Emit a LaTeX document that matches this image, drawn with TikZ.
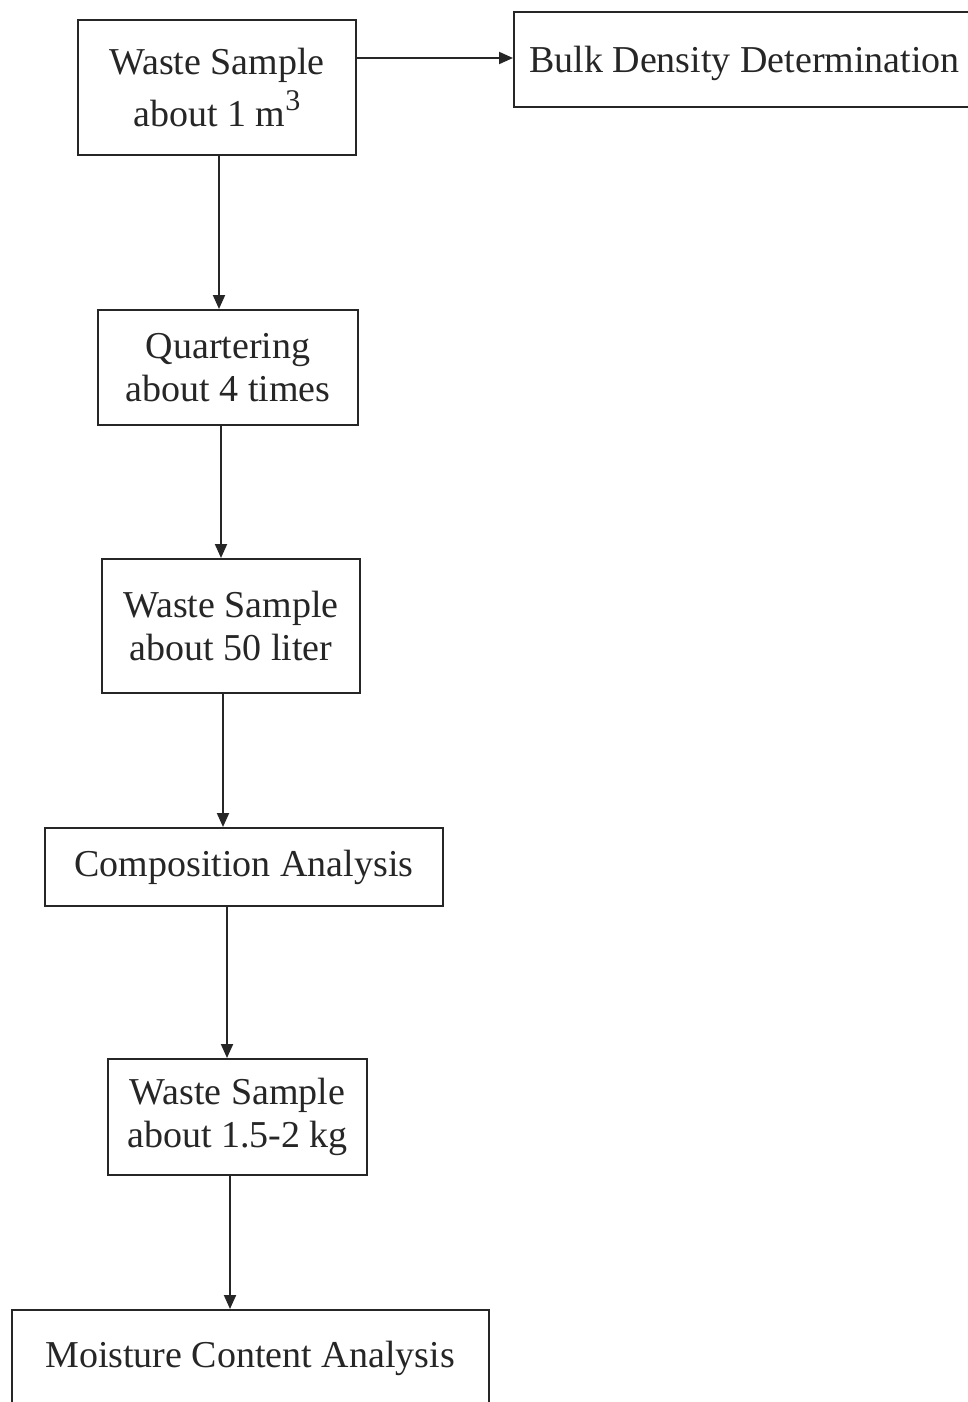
\documentclass[tikz,border=0pt]{standalone}
\usepackage{fontspec}
\setmainfont{Liberation Serif}
\usetikzlibrary{arrows.meta}
\tikzset{
  box/.style={draw=black!85, line width=2pt, inner sep=0pt, align=center,
    font=\fontsize{38}{43}\selectfont, text=black!85},
  arr/.style={draw=black!85, line width=2pt, -{Triangle[length=14pt,width=12pt]}}
}
\newcommand{\bigsup}[1]{\raisebox{0.42em}{\fontsize{30}{30}\selectfont #1}}
\begin{document}
\begin{tikzpicture}[x=1pt,y=-1pt]
\useasboundingbox (0,0) rectangle (968,1402);
\clip (0,0) rectangle (968,1402);
\fill[white] (0,0) rectangle (968,1402);
% boxes (centre, width, height from reference pixel edges)
\node[box, minimum width=278pt, minimum height=135pt] (w1) at (217,87.5) {Waste Sample\\[8pt]about 1 m\bigsup{3}};
\node[box, minimum width=461pt, minimum height=95pt] (bd) at (744.5,59.5) {\raisebox{-4pt}[\height][\depth]{Bulk Density Determination}};
\node[box, minimum width=260pt, minimum height=115pt] (qu) at (228,367.5) {Quartering\\about 4 times};
\node[box, minimum width=258pt, minimum height=134pt] (w2) at (231,626) {Waste Sample\\about 50 liter};
\node[box, minimum width=398pt, minimum height=78pt] (ca) at (244,867) {Composition Analysis};
\node[box, minimum width=259pt, minimum height=116pt] (w3) at (237.5,1117) {Waste Sample\\about 1.5-2 kg};
\node[box, minimum width=477pt, minimum height=96pt] (mc) at (250,1358) {Moisture Content Analysis};
% arrow columns
\coordinate (hy) at (0,58);
\coordinate (x1) at (219,0);
\coordinate (x2) at (221,0);
\coordinate (x3) at (223,0);
\coordinate (x4) at (227,0);
\coordinate (x5) at (230,0);
% connectors
\draw[arr] (w1.east |- hy) -- (bd.west |- hy);
\draw[arr] (w1.south -| x1) -- (qu.north -| x1);
\draw[arr] (qu.south -| x2) -- (w2.north -| x2);
\draw[arr] (w2.south -| x3) -- (ca.north -| x3);
\draw[arr] (ca.south -| x4) -- (w3.north -| x4);
\draw[arr] (w3.south -| x5) -- (mc.north -| x5);
\end{tikzpicture}
\end{document}
